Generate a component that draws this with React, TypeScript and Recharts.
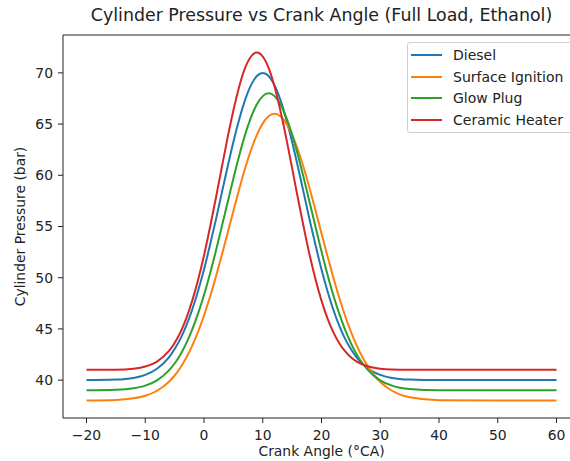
import React from 'react';
import { LineChart, Line, XAxis, YAxis, Legend, ReferenceLine } from 'recharts';

// crank angle samples (°CA)
const angles = [
  -20, -15, -12, -10, -8, -6, -5, -4, -3, -2, -1, 0, 1, 2, 3, 4, 5, 6, 7, 8, 9, 10,
  11, 12, 13, 14, 15, 16, 17, 18, 19, 20, 21, 22, 23, 24, 25, 26, 27, 28, 29, 30,
  32, 35, 40, 50, 60,
];

// cylinder pressure (bar)
const diesel = [
  40.0, 40.05, 40.21, 40.51, 41.11, 42.19, 43.03, 44.05, 45.34, 46.9, 48.73, 50.8, 53.14, 55.6,
  58.21, 60.79, 63.25, 65.47, 67.36, 68.8, 69.7, 70.0, 69.7, 68.8, 67.36, 65.47, 63.25, 60.79,
  58.21, 55.6, 53.14, 50.8, 48.73, 46.9, 45.34, 44.05, 43.03, 42.19, 41.56, 41.11, 40.75, 40.51,
  40.21, 40.05, 40.0, 40.0, 40.0,
];
const surfaceIgnition = [
  38.01, 38.06, 38.22, 38.47, 38.96, 39.82, 40.45, 41.23, 42.2, 43.36, 44.73, 46.31, 48.09, 50.05,
  52.14, 54.32, 56.52, 58.67, 60.68, 62.47, 63.95, 65.07, 65.76, 66.0, 65.76, 65.07, 63.95, 62.47,
  60.68, 58.67, 56.52, 54.32, 52.14, 50.05, 48.09, 46.31, 44.73, 43.36, 42.2, 41.23, 40.45, 39.82,
  38.96, 38.32, 38.04, 38.0, 38.0,
];
const glowPlug = [
  39.0, 39.05, 39.2, 39.46, 39.98, 40.93, 41.62, 42.51, 43.61, 44.95, 46.51, 48.31, 50.34, 52.57,
  54.92, 57.3, 59.68, 61.94, 63.97, 65.65, 66.93, 67.73, 68.0, 67.73, 66.93, 65.65, 63.97, 61.94,
  59.68, 57.3, 54.92, 52.57, 50.34, 48.31, 46.51, 44.95, 43.61, 42.51, 41.62, 40.93, 40.39, 39.98,
  39.46, 39.13, 39.01, 39.0, 39.0,
];
const ceramicHeater = [
  41.0, 41.02, 41.12, 41.33, 41.81, 42.82, 43.63, 44.69, 46.05, 47.76, 49.8, 52.16, 54.86, 57.71,
  60.69, 63.63, 66.33, 68.68, 70.48, 71.6, 72.0, 71.6, 70.48, 68.68, 66.33, 63.63, 60.69, 57.71,
  54.86, 52.16, 49.8, 47.76, 46.05, 44.69, 43.63, 42.82, 42.23, 41.81, 41.52, 41.33, 41.2, 41.12,
  41.04, 41.01, 41.0, 41.0, 41.0,
];

const xTicks = [-20, -10, 0, 10, 20, 30, 40, 50, 60];
const yTicks = [40, 45, 50, 55, 60, 65, 70];

const series = [
  { key: 'diesel', name: 'Diesel', color: '#1f77b4' },
  { key: 'surface', name: 'Surface Ignition', color: '#ff7f0e' },
  { key: 'glow', name: 'Glow Plug', color: '#2ca02c' },
  { key: 'ceramic', name: 'Ceramic Heater', color: '#d62728' },
];

const data = angles.map((a, i) => ({
  angle: a,
  diesel: diesel[i],
  surface: surfaceIgnition[i],
  glow: glowPlug[i],
  ceramic: ceramicHeater[i],
}));

const FONT = '"DejaVu Sans", sans-serif';
const Y_MAX = 73.7;

const LegendBox = () => (
  <div
    style={{
      border: '1px solid #d0d0d0',
      borderRadius: 3,
      background: 'rgba(255,255,255,0.8)',
      padding: '1px 8px 1px 3px',
      fontFamily: FONT,
      fontSize: 14,
      color: '#222',
    }}
  >
    {series.map((s) => (
      <div key={s.key} style={{ display: 'flex', alignItems: 'center', height: 21.8 }}>
        <span style={{ display: 'inline-block', width: 31, height: 2, background: s.color, marginRight: 11 }} />
        <span style={{ whiteSpace: 'nowrap' }}>{s.name}</span>
      </div>
    ))}
  </div>
);

export default function App() {
  return (
    <div
      style={{
        position: 'absolute',
        left: 0,
        top: 0,
        width: 570,
        height: 461,
        overflow: 'hidden',
        background: '#fff',
      }}
    >
      <div
        style={{
          position: 'absolute',
          top: 5,
          left: 0,
          width: 643,
          textAlign: 'center',
          fontFamily: FONT,
          fontSize: 17.4,
          color: '#222',
          whiteSpace: 'nowrap',
        }}
      >
        Cylinder Pressure vs Crank Angle (Full Load, Ethanol)
      </div>
      <LineChart
        width={590}
        height={461}
        data={data}
        margin={{ top: 35, right: 10, bottom: 0, left: 0 }}
        style={{ fontFamily: FONT }}
      >
        <XAxis
          dataKey="angle"
          type="number"
          domain={[-24, 64]}
          ticks={xTicks}
          allowDataOverflow
          height={43}
          tickSize={5}
          tickMargin={7}
          stroke="#222"
          tick={{ fill: '#222', fontSize: 13.9 }}
          tickFormatter={(v: number) => (v < 0 ? `\u2212${Math.abs(v)}` : `${v}`)}
          label={{ value: 'Crank Angle (°CA)', position: 'insideBottom', offset: 5, fill: '#222', fontSize: 13.9 }}
        />
        <YAxis
          type="number"
          domain={[36.3, Y_MAX]}
          ticks={yTicks}
          allowDataOverflow
          width={63}
          tickSize={5}
          tickMargin={5}
          stroke="#222"
          tick={{ fill: '#222', fontSize: 13.9 }}
          label={{
            value: 'Cylinder Pressure (bar)',
            angle: -90,
            position: 'insideLeft',
            offset: 20,
            style: { textAnchor: 'middle' },
            fill: '#222',
            fontSize: 13.9,
          }}
        />
        <ReferenceLine y={Y_MAX} stroke="#222" strokeWidth={1} ifOverflow="visible" />
        {series.map((s) => (
          <Line
            key={s.key}
            type="monotone"
            dataKey={s.key}
            name={s.name}
            stroke={s.color}
            strokeWidth={2}
            dot={false}
            isAnimationActive={false}
          />
        ))}
        <Legend
          layout="vertical"
          align="center"
          verticalAlign="middle"
          content={() => <LegendBox />}
          wrapperStyle={{ top: 42, left: 407, width: 175 }}
        />
      </LineChart>
    </div>
  );
}
